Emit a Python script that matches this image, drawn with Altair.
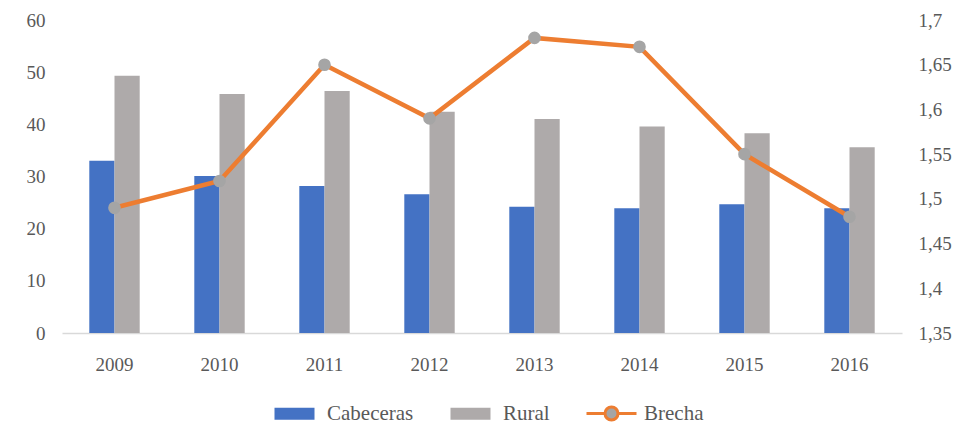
import altair as alt
import pandas as pd

years = ["2009", "2010", "2011", "2012", "2013", "2014", "2015", "2016"]
cabeceras = [33.0, 30.1, 28.2, 26.6, 24.2, 23.9, 24.7, 23.9]
rural = [49.3, 45.8, 46.4, 42.4, 41.0, 39.6, 38.3, 35.6]
brecha = [1.49, 1.52, 1.65, 1.59, 1.68, 1.67, 1.55, 1.48]

series = ["Cabeceras", "Rural", "Brecha"]
legend_fill = ["#4472C4", "#AEAAAA", "#A5A5A5"]
line_color = "#ED7D31"
left_ticks = [0, 10, 20, 30, 40, 50, 60]
right_ticks = [1.35, 1.4, 1.45, 1.5, 1.55, 1.6, 1.65, 1.7]

df_bars = pd.DataFrame(
    {"year": years * 2,
     "serie": ["Cabeceras"] * len(years) + ["Rural"] * len(years),
     "valor": cabeceras + rural}
)
df_line = pd.DataFrame({"year": years, "serie": ["Brecha"] * len(years), "brecha": brecha})

FONT = "Liberation Serif"
TXT = "#595959"
AX = 19
LG = 21

rect_path = "M-2,-0.6H2V0.6H-2Z"
line_path = "M-2.5,0H-0.65M0.65,0H2.5M0.65,0A0.65,0.65 0 1,1 -0.65,0A0.65,0.65 0 1,1 0.65,0"

x_enc = alt.X(
    "year:N",
    sort=years,
    scale=alt.Scale(paddingInner=0.52, paddingOuter=0.26),
    axis=alt.Axis(title=None, labelAngle=0, ticks=False, domainColor="#D9D9D9",
                  domainWidth=1.5, labelPadding=22, labelFont=FONT, labelFontSize=AX,
                  labelColor=TXT),
)

bars = alt.Chart(df_bars).mark_bar().encode(
    x=x_enc,
    xOffset=alt.XOffset("serie:N", sort=["Cabeceras", "Rural"],
                        scale=alt.Scale(paddingInner=0, paddingOuter=0)),
    y=alt.Y("valor:Q", scale=alt.Scale(domain=[0, 60], nice=False),
            axis=alt.Axis(title=None, values=left_ticks, domain=False, ticks=False,
                          grid=False, labelPadding=17, labelFont=FONT, labelFontSize=AX,
                          labelColor=TXT)),
    color=alt.Color(
        "serie:N",
        scale=alt.Scale(domain=series, range=legend_fill),
        legend=alt.Legend(
            title=None, orient="none", direction="horizontal", legendX=221, legendY=382,
            labelFont=FONT, labelFontSize=LG, labelColor=TXT, symbolSize=400,
            labelOffset=21, columnPadding=30, padding=0, symbolOpacity=1, labelLimit=300,
            symbolType=alt.ExprRef(expr=f"datum.value === 'Brecha' ? '{line_path}' : '{rect_path}'"),
            symbolStrokeColor=alt.ExprRef(expr=f"datum.value === 'Brecha' ? '{line_color}' : 'transparent'"),
            symbolStrokeWidth=3,
        ),
    ),
)

y_right = alt.Y("brecha:Q", scale=alt.Scale(domain=[1.35, 1.7], nice=False, zero=False),
                axis=alt.Axis(title=None, orient="right", values=right_ticks, domain=False,
                              ticks=False, grid=False, labelPadding=16, labelFont=FONT,
                              labelFontSize=AX, labelColor=TXT,
                              labelExpr="replace(format(datum.value, '.2~f'), '.', ',')"))

line = alt.Chart(df_line).mark_line(strokeWidth=4.5, color=line_color).encode(
    x=alt.X("year:N", sort=years),
    y=y_right,
)

points = alt.Chart(df_line).mark_point(filled=True, color="#A5A5A5", size=160, opacity=1).encode(
    x=alt.X("year:N", sort=years),
    y=alt.Y("brecha:Q", scale=alt.Scale(domain=[1.35, 1.7], nice=False, zero=False), axis=None),
)

chart = alt.layer(bars, line, points).resolve_scale(y="independent").properties(
    width=840, height=313,
    autosize=alt.AutoSizeParams(type="none"),
    padding={"left": 62, "top": 20, "right": 62, "bottom": 91},
).configure(font=FONT).configure_view(stroke=None).configure_axis(grid=False).configure_legend(
    labelFont=FONT, labelFontSize=LG, labelColor=TXT
)

chart.save("out.html", embed_options={"renderer": "svg", "actions": False})
